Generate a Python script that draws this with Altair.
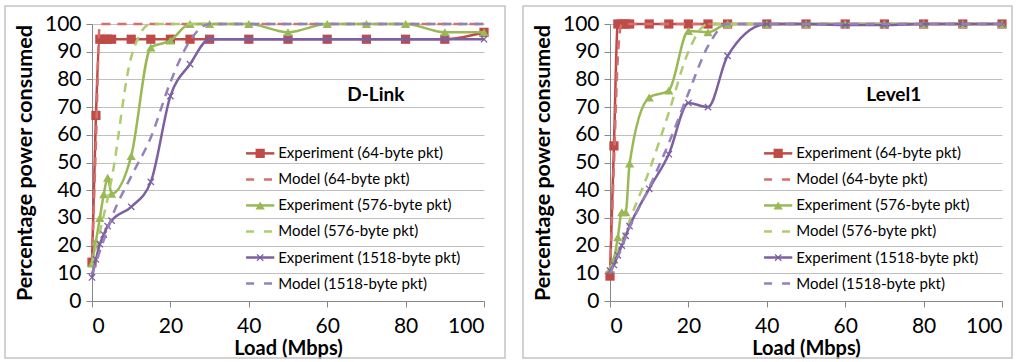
import altair as alt
import pandas as pd

loads = [0, 1, 2, 3, 4, 5, 10, 15, 20, 25, 30, 40, 50, 60, 70, 80, 90, 100]

series_names = [
    "Experiment (64-byte pkt)", "Model (64-byte pkt)",
    "Experiment (576-byte pkt)", "Model (576-byte pkt)",
    "Experiment (1518-byte pkt)", "Model (1518-byte pkt)",
]

# D-Link panel
dlink_exp64 = [14, 67, 94.5, 94.5, 94.5, 94.5, 94.5, 94.5, 94.5, 94.5, 94.5, 94.5, 94.5, 94.5, 94.5, 94.5, 94.5, 97]
dlink_mod64 = [14, 57, 100, 100, 100, 100, 100, 100, 100, 100, 100, 100, 100, 100, 100, 100, 100, 100]
dlink_exp576 = [13.5, 21.5, 30, 38.5, 44.5, 38.7, 52.3, 91.5, 94, 100, 100, 100, 97, 100, 100, 100, 97, 97]
dlink_mod576 = [13, 19, 25, 31, 37, 44, 88, 100, 100, 100, 100, 100, 100, 100, 100, 100, 100, 100]
dlink_exp1518 = [8.5, 15, 20.5, 24, 27, 29, 34, 43, 74, 85.5, 94.5, 94.5, 94.5, 94.5, 94.5, 94.5, 94.5, 94.5]
dlink_mod1518 = [10, 14, 18, 22, 26, 30, 45, 59, 79, 94, 100, 100, 100, 100, 100, 100, 100, 100]

# Level1 panel
level1_exp64 = [9, 56, 100, 100, 100, 100, 100, 100, 100, 100, 100, 100, 100, 100, 100, 100, 100, 100]
level1_mod64 = [10, 49, 88, 100, 100, 100, 100, 100, 100, 100, 100, 100, 100, 100, 100, 100, 100, 100]
level1_exp576 = [11.5, 15, 23, 32, 32, 49.6, 73.5, 76, 97.5, 97, 100, 100, 100, 100, 100, 100, 100, 100]
level1_mod576 = [11, 14.5, 18, 21.5, 25, 29, 47, 68, 90, 100, 100, 100, 100, 100, 100, 100, 100, 100]
level1_exp1518 = [11, 13, 16.5, 20, 23.5, 27, 40.5, 53, 71.5, 70, 88.5, 100, 100, 99.6, 99.6, 100, 100, 100]
level1_mod1518 = [10, 13, 16, 19.5, 23, 26.5, 41, 57, 75, 92, 100, 100, 100, 100, 100, 100, 100, 100]

FONT = "Lato"
colors = ["#BE4B48", "#D66F6C", "#98B954", "#AECB70", "#7D60A0", "#9580BE"]
dashed = [False, True, False, True, False, True]
markers = ["square", None, "triangle-up", None, "M-1,-1L1,1M-1,1L1,-1", None]

W, H = 392, 277

x_enc = alt.X("load:Q", scale=alt.Scale(domain=[0, 100], nice=False, zero=False),
              axis=alt.Axis(values=[0, 20, 40, 60, 80, 100], title="Load (Mbps)", grid=False,
                            tickSize=6, labelPadding=8, titlePadding=2, titleFontSize=20))
y_enc = alt.Y("value:Q", scale=alt.Scale(domain=[0, 100], nice=False),
              axis=alt.Axis(values=list(range(0, 101, 10)), title="Percentage power consumed",
                            grid=True, tickSize=6, labelPadding=5, titlePadding=8,
                            titleFontSize=21.5))

one = pd.DataFrame({"k": [0]})


def panel(values_list, label, box_right):
    layers = []
    layers.append(
        alt.Chart(one).mark_rect(filled=False, stroke="#C4C4C4", strokeWidth=1.5).encode(
            x=alt.value(-87), x2=alt.value(W + box_right), y=alt.value(-18), y2=alt.value(H + 57)
        )
    )
    for i, (name, vals) in enumerate(zip(series_names, values_list)):
        df = pd.DataFrame({"load": loads, "value": vals, "series": name})
        props = dict(color=colors[i], strokeWidth=2.5, interpolate="monotone")
        if dashed[i]:
            props["strokeDash"] = [9, 7]
        layers.append(alt.Chart(df).mark_line(**props).encode(x=x_enc, y=y_enc))
        if markers[i] is not None:
            if i == 4:
                pt = alt.Chart(df).mark_point(shape=markers[i], filled=False, color=colors[i],
                                              strokeWidth=1.3, size=40, opacity=1)
            else:
                pt = alt.Chart(df).mark_point(shape=markers[i], filled=True, color=colors[i],
                                              size=85 if i == 0 else 85, opacity=1)
            layers.append(pt.encode(x=x_enc, y=y_enc))

    # legend drawn inside the plot area
    for i, name in enumerate(series_names):
        ly = 53.3 - 9.4 * i
        seg = pd.DataFrame({"load": [39.3], "load2": [46.5], "value": [ly]})
        rprops = dict(color=colors[i], strokeWidth=2.5)
        if dashed[i]:
            rprops["strokeDash"] = [8, 10]
        layers.append(alt.Chart(seg).mark_rule(**rprops).encode(
            x=x_enc, x2="load2:Q", y=y_enc))
        if markers[i] is not None:
            pdf = pd.DataFrame({"load": [42.9], "value": [ly]})
            if i == 4:
                mk = alt.Chart(pdf).mark_point(shape=markers[i], filled=False, color=colors[i],
                                               strokeWidth=1.3, size=40, opacity=1)
            else:
                mk = alt.Chart(pdf).mark_point(shape=markers[i], filled=True, color=colors[i],
                                               size=85, opacity=1)
            layers.append(mk.encode(x=x_enc, y=y_enc))
        tdf = pd.DataFrame({"load": [47.5], "value": [ly], "t": [name]})
        layers.append(alt.Chart(tdf).mark_text(align="left", baseline="middle", font=FONT,
                                               fontSize=15, color="#000000").encode(
            x=x_enc, y=y_enc, text="t:N"))

    ldf = pd.DataFrame({"load": [72.4], "value": [74.5], "t": [label]})
    layers.append(alt.Chart(ldf).mark_text(align="center", baseline="middle", font=FONT,
                                           fontSize=19, fontWeight="bold", color="#000000").encode(
        x=x_enc, y=y_enc, text="t:N"))
    return alt.layer(*layers).properties(width=W, height=H)


left = panel([dlink_exp64, dlink_mod64, dlink_exp576, dlink_mod576, dlink_exp1518, dlink_mod1518],
             "D-Link", 21)
right = panel([level1_exp64, level1_mod64, level1_exp576, level1_mod576, level1_exp1518, level1_mod1518],
              "Level1", 10)

chart = alt.hconcat(left, right, spacing=16).properties(
    padding={"left": 4, "top": 5, "right": 0, "bottom": 0},
    background="#FFFFFF",
).configure_view(stroke=None).configure_axis(
    labelFont=FONT, labelFontSize=21, labelColor="#000000",
    titleFont=FONT, titleFontWeight="bold", titleColor="#000000",
    domainColor="#878787", tickColor="#878787", gridColor="#C0C0C0", domainWidth=1, gridWidth=1,
)

chart.save("out.html", embed_options={"renderer": "svg", "actions": False})
